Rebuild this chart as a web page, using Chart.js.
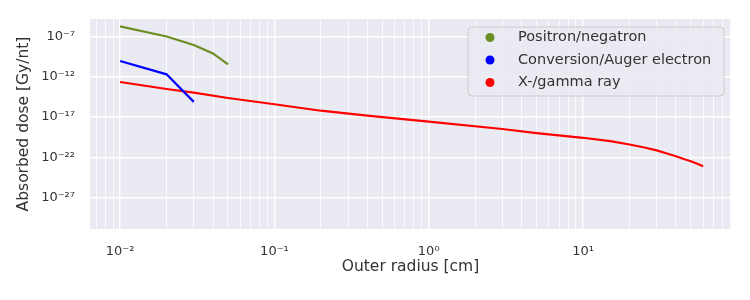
<!DOCTYPE html>
<html>
<head>
<meta charset="utf-8">
<script src="https://cdn.jsdelivr.net/npm/chart.js@4/dist/chart.umd.min.js"></script>
<style>
  html, body { margin: 0; padding: 0; background: #fff; }
  #wrap { width: 750px; height: 300px; }
</style>
</head>
<body>
<div id="wrap"><canvas id="grafico"></canvas></div>
<script>
// dados (raio externo em cm, dose em Gy/nt)
const raioPositron = [0.01, 0.02, 0.03, 0.04, 0.05];
const dosePositron = [1.8e-6, 1.0e-7, 9e-9, 8e-10, 3.5e-11];

const raioConversao = [0.01, 0.02, 0.03];
const doseConversao = [9e-11, 2e-12, 7.5e-16];

const raioGama = [0.01, 0.02, 0.03, 0.05, 0.1, 0.2, 0.4, 1, 3, 5, 10, 15, 20, 25, 30, 35, 40, 45, 50, 55, 60];
const doseGama = [2.2e-13, 3e-14, 1.05e-14, 2.3e-15, 3.8e-16, 6e-17, 1.45e-17, 2.6e-18,
                  3.2e-19, 1e-19, 2.6e-20, 9.8e-21, 3.8e-21, 1.6e-21, 7e-22, 2.9e-22,
                  1.3e-22, 6e-23, 3.2e-23, 1.55e-23, 7.5e-24];

const rotulos = ['Positron/negatron', 'Conversion/Auger electron', 'X-/gamma ray'];
const cores = ['#6b8e23', '#0000ff', '#ff0000'];

const ticksY = [1e-27, 1e-22, 1e-17, 1e-12, 1e-7];
const decadasX = [0.001, 0.01, 0.1, 1, 10];

const FONTE = "'DejaVu Sans', sans-serif";
const sup = { '-': '⁻', '0': '⁰', '1': '¹', '2': '²', '3': '³', '4': '⁴', '5': '⁵', '6': '⁶', '7': '⁷', '8': '⁸', '9': '⁹' };
function potencia(v) {
    const e = Math.round(Math.log10(v));
    return '10' + String(e).split('').map(c => sup[c]).join('');
}

function pares(xs, ys) {
    return xs.map((x, i) => ({ x: x, y: ys[i] }));
}

const fundo = {
    id: 'fundo',
    beforeDraw(chart) {
        const a = chart.chartArea, c = chart.ctx;
        c.save();
        c.fillStyle = '#eaeaf2';
        c.fillRect(a.left, a.top, a.right - a.left, a.bottom - a.top);
        c.restore();
    }
};

const legenda = {
    id: 'legenda',
    afterDraw(chart) {
        const a = chart.chartArea, c = chart.ctx;
        const w = 256, h = 69;
        const x0 = a.right - 7 - w, y0 = a.top + 8;
        c.save();
        c.beginPath();
        c.roundRect(x0, y0, w, h, 4);
        c.fillStyle = 'rgba(234,234,242,0.85)';
        c.fill();
        c.strokeStyle = '#cccccc';
        c.lineWidth = 1;
        c.stroke();
        c.font = '14.5px ' + FONTE;
        c.textBaseline = 'middle';
        rotulos.forEach((t, i) => {
            const y = y0 + 10.5 + i * 22.5;
            c.beginPath();
            c.arc(x0 + 22, y, 4.5, 0, Math.PI * 2);
            c.fillStyle = cores[i];
            c.fill();
            c.fillStyle = '#333333';
            c.fillText(t, x0 + 50, y);
        });
        c.restore();
    }
};

const ctx = document.getElementById('grafico');

const chart = new Chart(ctx, {
    type: 'line',
    data: {
        datasets: [
            { label: rotulos[0], data: pares(raioPositron, dosePositron), borderColor: cores[0] },
            { label: rotulos[1], data: pares(raioConversao, doseConversao), borderColor: cores[1] },
            { label: rotulos[2], data: pares(raioGama, doseGama), borderColor: cores[2] }
        ]
    },
    options: {
        responsive: true,
        maintainAspectRatio: false,
        animation: false,
        layout: { padding: { top: 19, right: 19, left: 0, bottom: 0 } },
        elements: {
            point: { radius: 0 },
            line: { borderWidth: 2.2, tension: 0 }
        },
        plugins: { legend: { display: false }, tooltip: { enabled: false } },
        scales: {
            x: {
                type: 'logarithmic',
                min: 0.00638,
                max: 91,
                border: { display: false },
                grid: {
                    drawTicks: false,
                    color: '#ffffff',
                    lineWidth: c => (c.tick && c.tick.major) ? 1.4 : 0.8
                },
                afterBuildTicks(scale) {
                    const t = [];
                    decadasX.forEach(d => {
                        for (let m = 1; m <= 9; m++) {
                            const v = d * m;
                            if (v >= scale.min && v <= scale.max) t.push({ value: v, major: m === 1 });
                        }
                    });
                    scale.ticks = t;
                },
                afterFit(scale) {
                    scale.height = 71;
                    scale.paddingLeft = 0;
                    scale.paddingRight = 0;
                },
                ticks: {
                    autoSkip: false,
                    maxRotation: 0,
                    padding: 15,
                    color: '#333333',
                    font: { family: FONTE, size: 13 },
                    callback: function (v) {
                        const e = Math.log10(v);
                        return Math.abs(e - Math.round(e)) < 1e-9 ? potencia(v) : '';
                    }
                },
                title: {
                    display: true,
                    text: 'Outer radius [cm]',
                    color: '#333333',
                    font: { family: FONTE, size: 15.5 },
                    padding: { top: 0, bottom: 24 }
                }
            },
            y: {
                type: 'logarithmic',
                min: 1.2e-31,
                max: 1.5e-5,
                border: { display: false },
                grid: { drawTicks: false, color: '#ffffff', lineWidth: 1.4 },
                afterBuildTicks(scale) {
                    scale.ticks = ticksY.map(v => ({ value: v, major: true }));
                },
                afterFit(scale) {
                    scale.width = 90;
                    scale.paddingTop = 0;
                    scale.paddingBottom = 0;
                },
                ticks: {
                    autoSkip: false,
                    padding: 15,
                    color: '#333333',
                    font: { family: FONTE, size: 13 },
                    callback: v => potencia(v)
                },
                title: {
                    display: true,
                    text: 'Absorbed dose [Gy/nt]',
                    color: '#333333',
                    font: { family: FONTE, size: 15.5 },
                    padding: { top: 15, bottom: 0 }
                }
            }
        }
    },
    plugins: [fundo, legenda]
});
</script>
</body>
</html>
